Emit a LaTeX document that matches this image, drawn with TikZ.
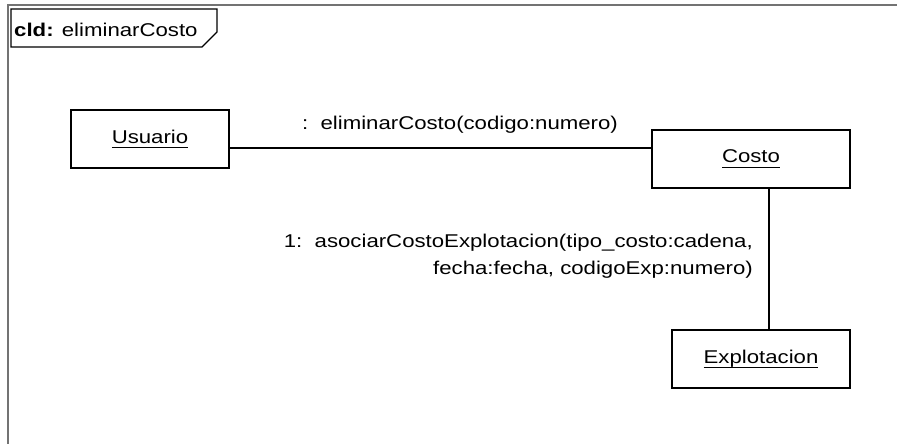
\documentclass[tikz,border=0pt]{standalone}
\usepackage{fontspec}
\setmainfont{Liberation Sans}[FakeStretch=1.2]
\newcommand\umlul[1]{\setbox0\hbox{#1}\rlap{\rule[-5pt]{\wd0}{1.2pt}}\box0}
\begin{document}
\begin{tikzpicture}[x=1pt,y=-1pt,
  obj/.style={draw=black,line width=1.4pt,minimum height=58pt,inner sep=0pt,font=\fontsize{18.5}{22}\selectfont},
  lbl/.style={inner sep=0pt,font=\fontsize{18.5}{27}\selectfont},
  conn/.style={draw=black,line width=1.4pt}]
\useasboundingbox (0,0) rectangle (897,444);
\fill[white] (0,0) rectangle (897,444);
% frame
\draw[gray!90!black,line width=2pt] (8,450) -- (8,5) -- (905,5);
\draw[black,line width=1.4pt] (11,9) -- (217,9) -- (217,32) -- (202,47) -- (11,47) -- cycle;
\node[lbl,anchor=base west] (title) at (14,37) {\textbf{cld:} eliminarCosto};
% objects
\node[obj,minimum width=158pt] (usuario) at (150,139) {\umlul{Usuario}};
\node[obj,minimum width=198pt] (costo) at (751,159) {\umlul{Costo}};
\node[obj,minimum width=178pt] (explot) at (761,359) {\umlul{Explotacion}};
% links
\draw[conn] ([yshift=-9pt]usuario.east) -- ([yshift=-9pt]usuario.east -| costo.west);
\draw[conn] ([xshift=18pt]costo.south) -- ([xshift=8pt]explot.north);
% labels
\node[lbl] (m0) at (460,125) {:\ \ eliminarCosto(codigo:numero)};
\node[lbl,align=right,anchor=east] (m1) at (753,256) {1:\ \ asociarCostoExplotacion(tipo\_costo:cadena,\\fecha:fecha, codigoExp:numero)};
\end{tikzpicture}
\end{document}
